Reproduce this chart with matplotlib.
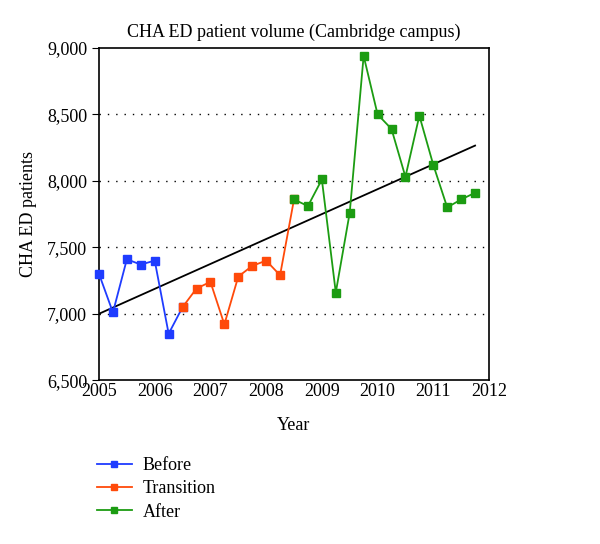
import numpy as np
import matplotlib
matplotlib.use('Agg')
import matplotlib.pyplot as plt
from matplotlib.ticker import FuncFormatter

plt.rcParams['font.family'] = ['Liberation Serif', 'DejaVu Serif']

# quarterly patient volumes
before_x = [2005.0, 2005.25, 2005.5, 2005.75, 2006.0, 2006.25, 2006.5]
before_y = [7300, 7010, 7410, 7370, 7400, 6850, 7050]
trans_x = [2006.5, 2006.75, 2007.0, 2007.25, 2007.5, 2007.75, 2008.0, 2008.25, 2008.5]
trans_y = [7050, 7190, 7240, 6920, 7280, 7360, 7400, 7290, 7860]
after_x = [2008.5, 2008.75, 2009.0, 2009.25, 2009.5, 2009.75, 2010.0, 2010.25,
           2010.5, 2010.75, 2011.0, 2011.25, 2011.5, 2011.75]
after_y = [7860, 7810, 8010, 7160, 7760, 8940, 8500, 8390,
           8030, 8490, 8120, 7800, 7860, 7910]
trend_x = [2005.0, 2011.75]
trend_y = [7000, 8265]

fig = plt.figure(figsize=(6, 5.44), dpi=100)
ax = fig.add_axes([0.165, 0.301, 0.65, 0.611])

ax.plot(trend_x, trend_y, color='black', lw=1.3, zorder=2)
ax.plot(before_x, before_y, color='#1f3cff', marker='s', ms=6, lw=1.3,
        label='Before', zorder=3, clip_on=False)
ax.plot(trans_x, trans_y, color='#ff4a0a', marker='s', ms=6, lw=1.3,
        label='Transition', zorder=4, clip_on=False)
ax.plot(after_x, after_y, color='#1c9c12', marker='s', ms=6, lw=1.3,
        label='After', zorder=5, clip_on=False)

ax.set_xlim(2005, 2012)
ax.set_ylim(6500, 9000)
ax.set_xticks(range(2005, 2013))
ax.set_yticks(range(6500, 9001, 500))
ax.yaxis.set_major_formatter(FuncFormatter(lambda v, p: f'{int(v):,}'))
for g in [7000, 7500, 8000, 8500]:
    ax.axhline(g, color='black', lw=1, ls=(0, (1, 5)), zorder=1)

ax.tick_params(axis='x', length=0, labelsize=13, pad=2)
ax.tick_params(axis='y', direction='out', length=5, labelsize=13)
for s in ax.spines.values():
    s.set_linewidth(1.2)

ax.set_title('CHA ED patient volume (Cambridge campus)', fontsize=13, pad=8)
ax.set_xlabel('Year', fontsize=13, labelpad=12)
ax.set_ylabel('CHA ED patients', fontsize=13, labelpad=7)

fig.legend(loc='upper left', bbox_to_anchor=(0.135, 0.19), frameon=False,
           fontsize=13, handlelength=1.9, handletextpad=0.6,
           markerscale=0.75, labelspacing=0.35)

fig.savefig('out.png')
